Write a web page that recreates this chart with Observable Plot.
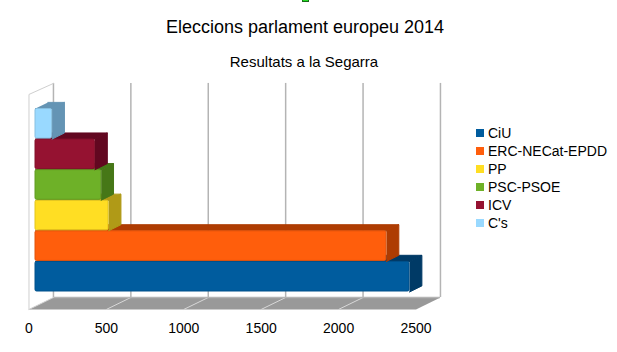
<!DOCTYPE html>
<html>
<head>
<meta charset="utf-8">
<script src="https://cdn.jsdelivr.net/npm/d3@7"></script>
<script src="https://cdn.jsdelivr.net/npm/@observablehq/plot@0.6"></script>
<style>
html,body{margin:0;padding:0;background:#fff}
body{position:relative;width:617px;height:352px;overflow:hidden;font-family:"Liberation Sans",Arial,sans-serif;color:#000}
#marker{position:absolute;left:302px;top:0;width:5px;height:1px;background:#22dd22;border:1px solid #1a6a1a;border-top:0}
#title{position:absolute;left:0;width:610px;top:16px;text-align:center;font-size:18px;line-height:22px}
#subtitle{position:absolute;left:0;width:608px;top:53px;text-align:center;font-size:15px;line-height:18px}
#chart{position:absolute;left:0;top:80px}
#legend{position:absolute;left:476px;top:124px;font-size:14px;line-height:18px}
#legend div{display:flex;align-items:center;height:18px}
#legend span{display:inline-block;width:8px;height:8px;margin-right:4px;box-sizing:border-box}
</style>
</head>
<body>
<div id="marker"></div>
<div id="title">Eleccions parlament europeu 2014</div>
<div id="subtitle">Resultats a la Segarra</div>
<div id="chart"></div>
<div id="legend"></div>
<script>
const parties = ["CiU", "ERC-NECat-EPDD", "PP", "PSC-PSOE", "ICV", "C's"];
const votes = [2416, 2267, 472, 424, 384, 107];
const frontColors = ["#005c9e", "#ff5e0c", "#ffde23", "#6eb128", "#951231", "#99d9ff"];
const shadeColors = ["#003a66", "#ae3c02", "#b09a17", "#467717", "#620720", "#6494b4"];
const tickValues = [0, 500, 1000, 1500, 2000, 2500];

// 3D projection, expressed in the chart's own units (votes, bar rows)
const barDepthX = 80, barDepthY = 0.2;
const frontX = -42, frontY = -0.57, backX = 116, backY = -0.18;
const wallFrontTop = 6.46, wallBackTop = 6.82, xMax = 2500;
const wall = "#b4b4b4", wallLight = "#cfcfcf", floorFill = "#999999", floorLine = "#d8d8d8";

const floor = [[frontX, frontY], [backX, backY], [xMax + backX, backY], [xMax + frontX, frontY]];
const polygon = (pts, opts) => Plot.line(pts, {x: d => d[0], y: d => d[1], curve: "linear", ...opts});

const barMarks = parties.flatMap((p, i) => {
  const v = votes[i];
  const top = [[0, i + 1], [v, i + 1], [v + barDepthX, i + 1 + barDepthY], [barDepthX, i + 1 + barDepthY]];
  const side = [[v, i], [v + barDepthX, i + barDepthY], [v + barDepthX, i + 1 + barDepthY], [v, i + 1]];
  return [
    polygon(top, {fill: shadeColors[i], stroke: shadeColors[i], strokeWidth: 1, strokeLinejoin: "round"}),
    polygon(side, {fill: shadeColors[i], stroke: shadeColors[i], strokeWidth: 1, strokeLinejoin: "round"}),
    Plot.rect([{x1: 0, x2: v, y1: i, y2: i + 1}], {
      x1: "x1", x2: "x2", y1: "y1", y2: "y2",
      fill: frontColors[i], stroke: d3.color(frontColors[i]).darker(0.35).formatHex(),
      strokeWidth: 1, rx: 1.5, insetTop: 0.5, insetBottom: 0.5
    })
  ];
});

const chart = Plot.plot({
  width: 617,
  height: 272,
  margin: 0,
  marginBottom: 29,
  style: {background: "transparent", fontFamily: "'Liberation Sans',Arial,sans-serif", overflow: "visible"},
  x: {domain: [0, xMax], range: [35, 422]},
  y: {domain: [0, 6], range: [211.5, 28], axis: null},
  marks: [
    polygon(floor, {fill: floorFill}),
    Plot.link(tickValues.slice(1, -1), {
      x1: d => d + frontX, y1: frontY, x2: d => d + backX, y2: backY,
      stroke: floorLine, strokeWidth: 1
    }),
    Plot.ruleX(tickValues, {x: d => d + backX, y1: backY, y2: wallBackTop, stroke: wall, strokeWidth: 1.5}),
    Plot.ruleY([backY], {x1: backX, x2: xMax + backX, stroke: wall, strokeWidth: 1.5}),
    polygon([[frontX, frontY], [frontX, wallFrontTop], [backX, wallBackTop]], {stroke: wallLight, strokeWidth: 1}),
    polygon([[frontX, frontY], [backX, backY]], {stroke: wallLight, strokeWidth: 1}),
    ...barMarks,
    Plot.axisX(tickValues, {
      anchor: "bottom", tickSize: 0, tickPadding: 0, dx: -6.5,
      fontSize: 14, fill: "#000", tickFormat: d => String(d), label: null
    })
  ]
});
document.getElementById("chart").append(chart);

const legend = document.getElementById("legend");
parties.forEach((p, i) => {
  const row = document.createElement("div");
  const sw = document.createElement("span");
  sw.style.background = frontColors[i];
  row.append(sw, document.createTextNode(p));
  legend.append(row);
});
</script>
</body>
</html>
